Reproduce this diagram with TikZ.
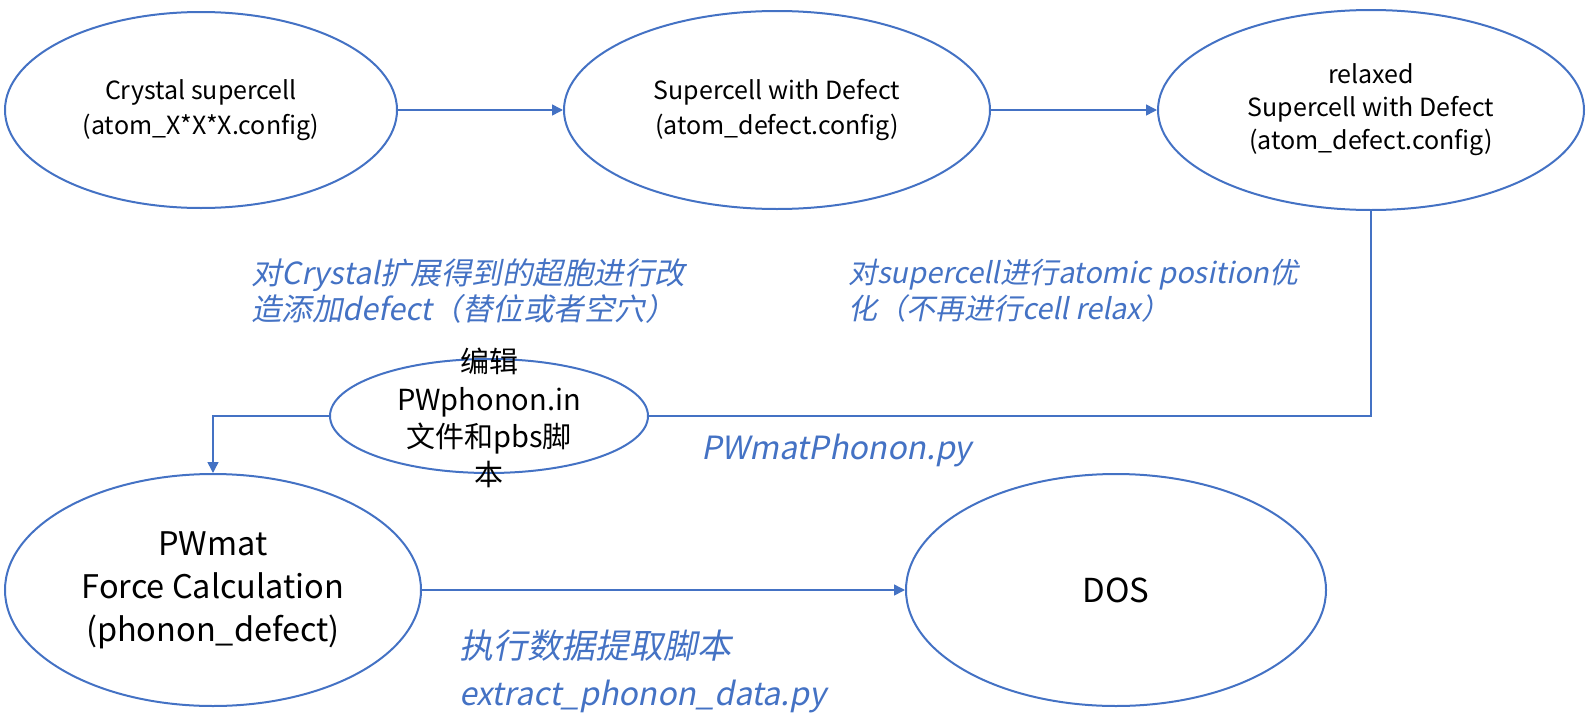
\documentclass[tikz,border=0pt]{standalone}
\usepackage{fontspec}
\setmainfont{Noto Sans CJK SC}
\newfontfamily\slfont[FakeSlant=0.2]{Noto Sans CJK SC}
\usetikzlibrary{shapes.geometric,arrows.meta}
\definecolor{oblue}{HTML}{4472C4}
\begin{document}
\begin{tikzpicture}[x=1pt,y=-1pt,
  ell/.style={draw=oblue,line width=2pt,ellipse,inner sep=0pt,align=center,text=black},
  conn/.style={draw=oblue,line width=1.5pt},
  arr/.style={conn,-{Triangle[length=11pt,width=11pt]}},
  lbl/.style={text=oblue,inner sep=0pt,align=left}]
\useasboundingbox (0,0) rectangle (1591,715);
\node[ell,minimum width=392pt,minimum height=196pt,font=\fontsize{25}{34.5}\selectfont] (e1) at (201,110) {Crystal supercell\\(atom\_X*X*X.config)};
\node[ell,minimum width=426pt,minimum height=198pt,font=\fontsize{25}{34.5}\selectfont] (e2) at (777,110) {Supercell with Defect\\(atom\_defect.config)};
\node[ell,minimum width=426pt,minimum height=200pt,font=\fontsize{25}{33}\selectfont] (e3) at (1371,110) {relaxed\\Supercell with Defect\\(atom\_defect.config)};
\node[ell,minimum width=318pt,minimum height=114pt] (sm) at (489,416) {};
\node[inner sep=0pt,align=center,font=\fontsize{29}{37.5}\selectfont] (smt) at (489,418) {编辑\\PWphonon.in\\文件和pbs脚\\本};
\node[ell,minimum width=416pt,minimum height=232pt,font=\fontsize{32.5}{43}\selectfont] (pw) at (213,590) {PWmat\\Force Calculation\\(phonon\_defect)};
\node[ell,minimum width=420pt,minimum height=232pt,font=\fontsize{33}{36}\selectfont] (dos) at (1116,590) {DOS};
\draw[arr] (e1.east) -- (e2.west);
\draw[arr] (e2.east) -- (e3.west);
\draw[conn] (e3.south) |- (sm.east);
\draw[arr] (sm.west) -| (pw.north);
\draw[arr] (pw.east) -- (dos.west);
\node[lbl,anchor=north west,font=\fontsize{30.5}{36}\selectfont\slfont] (l1) at (251,259) {对Crystal扩展得到的超胞进行改\\造添加defect（替位或者空穴）};
\node[lbl,anchor=north west,font=\fontsize{29}{36}\selectfont\slfont] (l2) at (848,259) {对supercell进行atomic position优\\化（不再进行cell relax）};
\node[lbl,anchor=base west,font=\fontsize{32}{36}\selectfont\slfont] (l3) at (701,459) {PWmatPhonon.py};
\node[lbl,anchor=north west,font=\fontsize{34}{41}\selectfont\slfont] (l4) at (459,630) {执行数据提取脚本\\[6pt]\fontsize{32}{41}\selectfont extract\_phonon\_data.py};
\end{tikzpicture}
\end{document}
